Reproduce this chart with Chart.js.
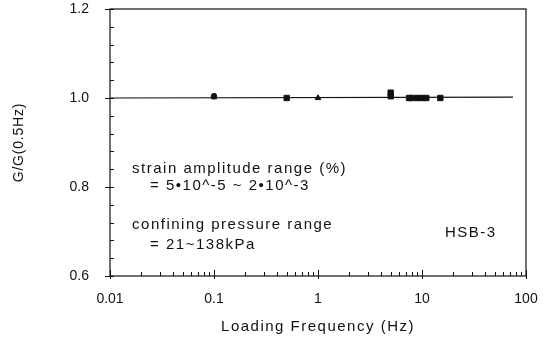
<!DOCTYPE html>
<html><head><meta charset="utf-8">
<script src="https://cdn.jsdelivr.net/npm/chart.js@4"></script>
<style>html,body{margin:0;padding:0;background:#fff}#wrap{width:548px;height:339px}</style>
</head><body><div id="wrap"><canvas id="c" width="548" height="339"></canvas></div>
<script>
// measured series (loading frequency in Hz, G/G(0.5Hz))
const circleFreq   = [0.1];
const circleRatio  = [1.004];
const triangleFreq  = [0.1, 1];
const triangleRatio = [1.002, 1.0];
const squareFreq  = [0.5, 5, 5, 7.5, 8, 9, 10, 11, 15];
const squareRatio = [1.0, 1.012, 1.004, 1.0, 1.0, 1.0, 1.0, 1.0, 1.0];
// fitted line
const fitFreq  = [0.01, 75];
const fitRatio = [1.0, 1.002];
// ticks
const xTicks = [0.01, 0.1, 1, 10, 100];
const xTickLabels = ['0.01', '0.1', '1', '10', '100'];
const yTicks = [0.6, 0.8, 1.0, 1.2];
const yTickLabels = ['0.6', '0.8', '1.0', '1.2'];
// texts
const xTitle = 'Loading Frequency (Hz)';
const yTitle = 'G/G(0.5Hz)';
const noteTexts = ['strain amplitude range (%)', '= 5\u202210^-5 ~ 2\u202210^-3', 'confining pressure range', '= 21~138kPa', 'HSB-3'];
const noteFreq  = [0.0163, 0.0243, 0.0163, 0.0243, 16.6];
const noteRatio = [0.840, 0.803, 0.714, 0.671, 0.696];

const FONT = '"Liberation Sans", Arial, sans-serif';

const frame = {
  id: 'frame',
  afterDraw(chart) {
    const ctx = chart.ctx, a = chart.chartArea, xs = chart.scales.x, ys = chart.scales.y;
    ctx.save();
    ctx.strokeStyle = '#111'; ctx.lineWidth = 1.2;
    ctx.strokeRect(a.left, a.top, a.right - a.left, a.bottom - a.top);
    ctx.lineWidth = 1;
    ctx.beginPath();
    for (let d = -2; d < 2; d++) {
      for (let m = 2; m <= 9; m++) {
        const px = Math.round(xs.getPixelForValue(m * Math.pow(10, d))) + 0.5;
        ctx.moveTo(px, a.bottom); ctx.lineTo(px, a.bottom - 4);
      }
    }
    xTicks.forEach(v => { const px = Math.round(xs.getPixelForValue(v)) + 0.5; ctx.moveTo(px, a.bottom + 3); ctx.lineTo(px, a.bottom - 6); });
    for (let k = 0; k <= 15; k++) {
      const v = 0.6 + k * 0.04;
      const py = Math.round(ys.getPixelForValue(v)) + 0.5;
      if (k % 5 === 0) { ctx.moveTo(a.left - 5, py); ctx.lineTo(a.left + 4, py); }
      else { ctx.moveTo(a.left, py); ctx.lineTo(a.left + 4, py); }
    }
    ctx.stroke();
    ctx.fillStyle = '#111';
    ctx.textBaseline = 'middle';
    // annotations
    ctx.font = '15px ' + FONT;
    ctx.letterSpacing = '1.5px';
    ctx.textAlign = 'left';
    noteTexts.forEach((t, i) => ctx.fillText(t, xs.getPixelForValue(noteFreq[i]), ys.getPixelForValue(noteRatio[i])));
    // axis titles
    ctx.font = '15px ' + FONT;
    ctx.letterSpacing = '1.5px';
    ctx.textAlign = 'center';
    ctx.fillText(xTitle, (a.left + a.right) / 2, 327);
    ctx.save();
    ctx.translate(19, (a.top + a.bottom) / 2);
    ctx.rotate(-Math.PI / 2);
    ctx.font = '14px ' + FONT;
    ctx.letterSpacing = '0.8px';
    ctx.fillText(yTitle, 0, 0);
    ctx.restore();
    ctx.restore();
  }
};

const pts = (xs, ys) => xs.map((x, i) => ({x, y: ys[i]}));

new Chart(document.getElementById('c'), {
  type: 'scatter',
  data: {
    datasets: [
      { type: 'line', data: pts(fitFreq, fitRatio), borderColor: '#111', borderWidth: 1.2, pointRadius: 0, fill: false, order: 2 },
      { data: pts(circleFreq, circleRatio), pointStyle: 'circle', pointRadius: 2.8, backgroundColor: '#111', borderColor: '#111', borderWidth: 1, order: 1 },
      { data: pts(triangleFreq, triangleRatio), pointStyle: 'triangle', pointRadius: 3.2, backgroundColor: '#111', borderColor: '#111', borderWidth: 1, order: 1 },
      { data: pts(squareFreq, squareRatio), pointStyle: 'rect', pointRadius: 3.8, backgroundColor: '#111', borderColor: '#111', borderWidth: 1, order: 1 }
    ]
  },
  options: {
    responsive: false, animation: false,
    layout: { padding: { top: 9, right: 22, left: 0, bottom: 0 } },
    plugins: { legend: { display: false }, tooltip: { enabled: false } },
    scales: {
      x: {
        type: 'logarithmic', min: 0.01, max: 100,
        afterBuildTicks: s => { s.ticks = xTicks.map(v => ({value: v})); },
        afterFit: s => { s.height = 63; s.paddingLeft = 0; s.paddingRight = 0; },
        grid: { display: false, drawTicks: false },
        border: { display: false },
        ticks: { color: '#111', font: { family: FONT, size: 14 }, padding: 15, maxRotation: 0, autoSkip: false,
          callback: (v) => { const i = xTicks.indexOf(v); return i >= 0 ? xTickLabels[i] : ''; } }
      },
      y: {
        type: 'linear', min: 0.6, max: 1.2,
        afterBuildTicks: s => { s.ticks = yTicks.map(v => ({value: v})); },
        afterFit: s => { s.width = 110; s.paddingTop = 0; s.paddingBottom = 0; },
        grid: { display: false, drawTicks: false },
        border: { display: false },
        ticks: { color: '#111', font: { family: FONT, size: 14 }, padding: 21,
          callback: (v) => { const i = yTicks.findIndex(t => Math.abs(t - v) < 1e-9); return i >= 0 ? yTickLabels[i] : ''; } }
      }
    }
  },
  plugins: [frame]
});
</script>
</body></html>
